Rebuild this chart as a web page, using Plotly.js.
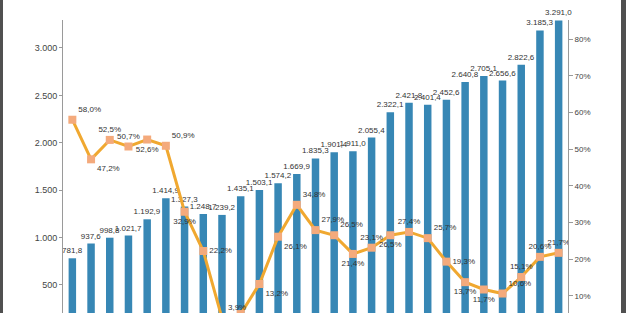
<!DOCTYPE html>
<html>
<head>
<meta charset="utf-8">
<script src="https://cdn.plot.ly/plotly-3.0.1.min.js"></script>
<style>
  html, body { margin: 0; padding: 0; background: #ffffff; }
  #chart { width: 626px; height: 313px; }
</style>
</head>
<body>
<div id="chart"></div>
<script>
// categories (periods; original labels not visible in the crop)
const categories = ["1","2","3","4","5","6","7","8","9","10","11","12","13","14","15","16","17","18","19","20","21","22","23","24","25","26","27"];
// bar series (left axis)
const barValues = [781.8, 937.6, 998.8, 1021.7, 1192.9, 1414.9, 1327.3, 1248.7, 1239.2, 1435.1, 1503.1, 1574.2, 1669.9, 1835.3, 1901.4, 1911.0, 2055.4, 2322.1, 2421.8, 2401.4, 2452.6, 2640.8, 2705.1, 2656.6, 2822.6, 3185.3, 3291.0];
// line series (right axis, %)
const lineValues = [58.0, 47.2, 52.5, 50.7, 52.6, 50.9, 32.9, 22.2, 3.9, 5.0, 13.2, 26.1, 34.8, 27.9, 26.5, 21.4, 23.1, 26.5, 27.4, 25.7, 19.3, 13.7, 11.7, 10.6, 15.1, 20.6, 21.7];
const lineLabelPos = ["top right","bottom right","top center","top center","bottom center","top right","bottom center","middle right","top right","bottom center","bottom right","bottom right","top right","top right","top right","bottom center","top center","bottom center","top center","top right","middle right","bottom center","bottom center","top right","top center","top center","top center"];
// tick values
const leftTicks = [500, 1000, 1500, 2000, 2500, 3000];
const rightTicks = [10, 20, 30, 40, 50, 60, 70, 80];
const rightTickText = rightTicks.map(v => v + "%");

const fontFam = "Liberation Sans, Arial, sans-serif";

const bars = {
  type: "bar",
  x: categories,
  y: barValues,
  marker: { color: "#3787b5" },
  texttemplate: "%{y:,.1f}",
  textposition: "outside",
  textangle: 0,
  constraintext: "none",
  cliponaxis: false,
  textfont: { family: fontFam, size: 8, color: "#333333" },
  hoverinfo: "skip",
  showlegend: false
};

const line = {
  type: "scatter",
  mode: "lines+markers+text",
  x: categories,
  y: lineValues,
  yaxis: "y2",
  line: { color: "#f0a830", width: 3 },
  marker: { symbol: "square", size: 8, color: "#f4aa7c" },
  texttemplate: "%{y:.1f}%",
  textposition: lineLabelPos,
  textfont: { family: fontFam, size: 8, color: "#333333" },
  cliponaxis: true,
  hoverinfo: "skip",
  showlegend: false
};

const plotW = 505, plotH = 293;
const layout = {
  width: 626,
  height: 313,
  margin: { l: 63, r: 58, t: 20, b: 0, pad: 0 },
  paper_bgcolor: "#ffffff",
  plot_bgcolor: "#ffffff",
  separators: ",.",
  bargap: 0.6,
  showlegend: false,
  font: { family: fontFam, size: 9, color: "#444444" },
  xaxis: { visible: false, type: "category", range: [-0.5, categories.length - 0.5] },
  yaxis: {
    range: [204.6, 3295],
    tickvals: leftTicks,
    tickformat: ",d",
    separatethousands: true,
    showgrid: false,
    zeroline: false,
    showline: true,
    linecolor: "#9a9a9a",
    linewidth: 1,
    ticks: "outside",
    ticklen: 3,
    tickcolor: "#9a9a9a",
    tickfont: { family: fontFam, size: 9, color: "#444444" }
  },
  yaxis2: {
    overlaying: "y",
    side: "right",
    range: [5.29, 85.2],
    tickmode: "array",
    tickvals: rightTicks,
    ticktext: rightTickText,
    showgrid: false,
    zeroline: false,
    showline: true,
    linecolor: "#9a9a9a",
    linewidth: 1,
    ticks: "outside",
    ticklen: 4,
    tickcolor: "#9a9a9a",
    tickfont: { family: fontFam, size: 8, color: "#444444" }
  },
  shapes: [
    { type: "rect", xref: "paper", yref: "paper", x0: -63 / plotW, x1: -60 / plotW, y0: -0.2, y1: 1.2, fillcolor: "#505050", line: { width: 0 }, layer: "above" },
    { type: "rect", xref: "paper", yref: "paper", x0: (621 - 63) / plotW, x1: (627 - 63) / plotW, y0: -0.2, y1: 1.2, fillcolor: "#505050", line: { width: 0 }, layer: "above" }
  ]
};

Plotly.newPlot("chart", [bars, line], layout, { displayModeBar: false, staticPlot: true });
</script>
</body>
</html>
